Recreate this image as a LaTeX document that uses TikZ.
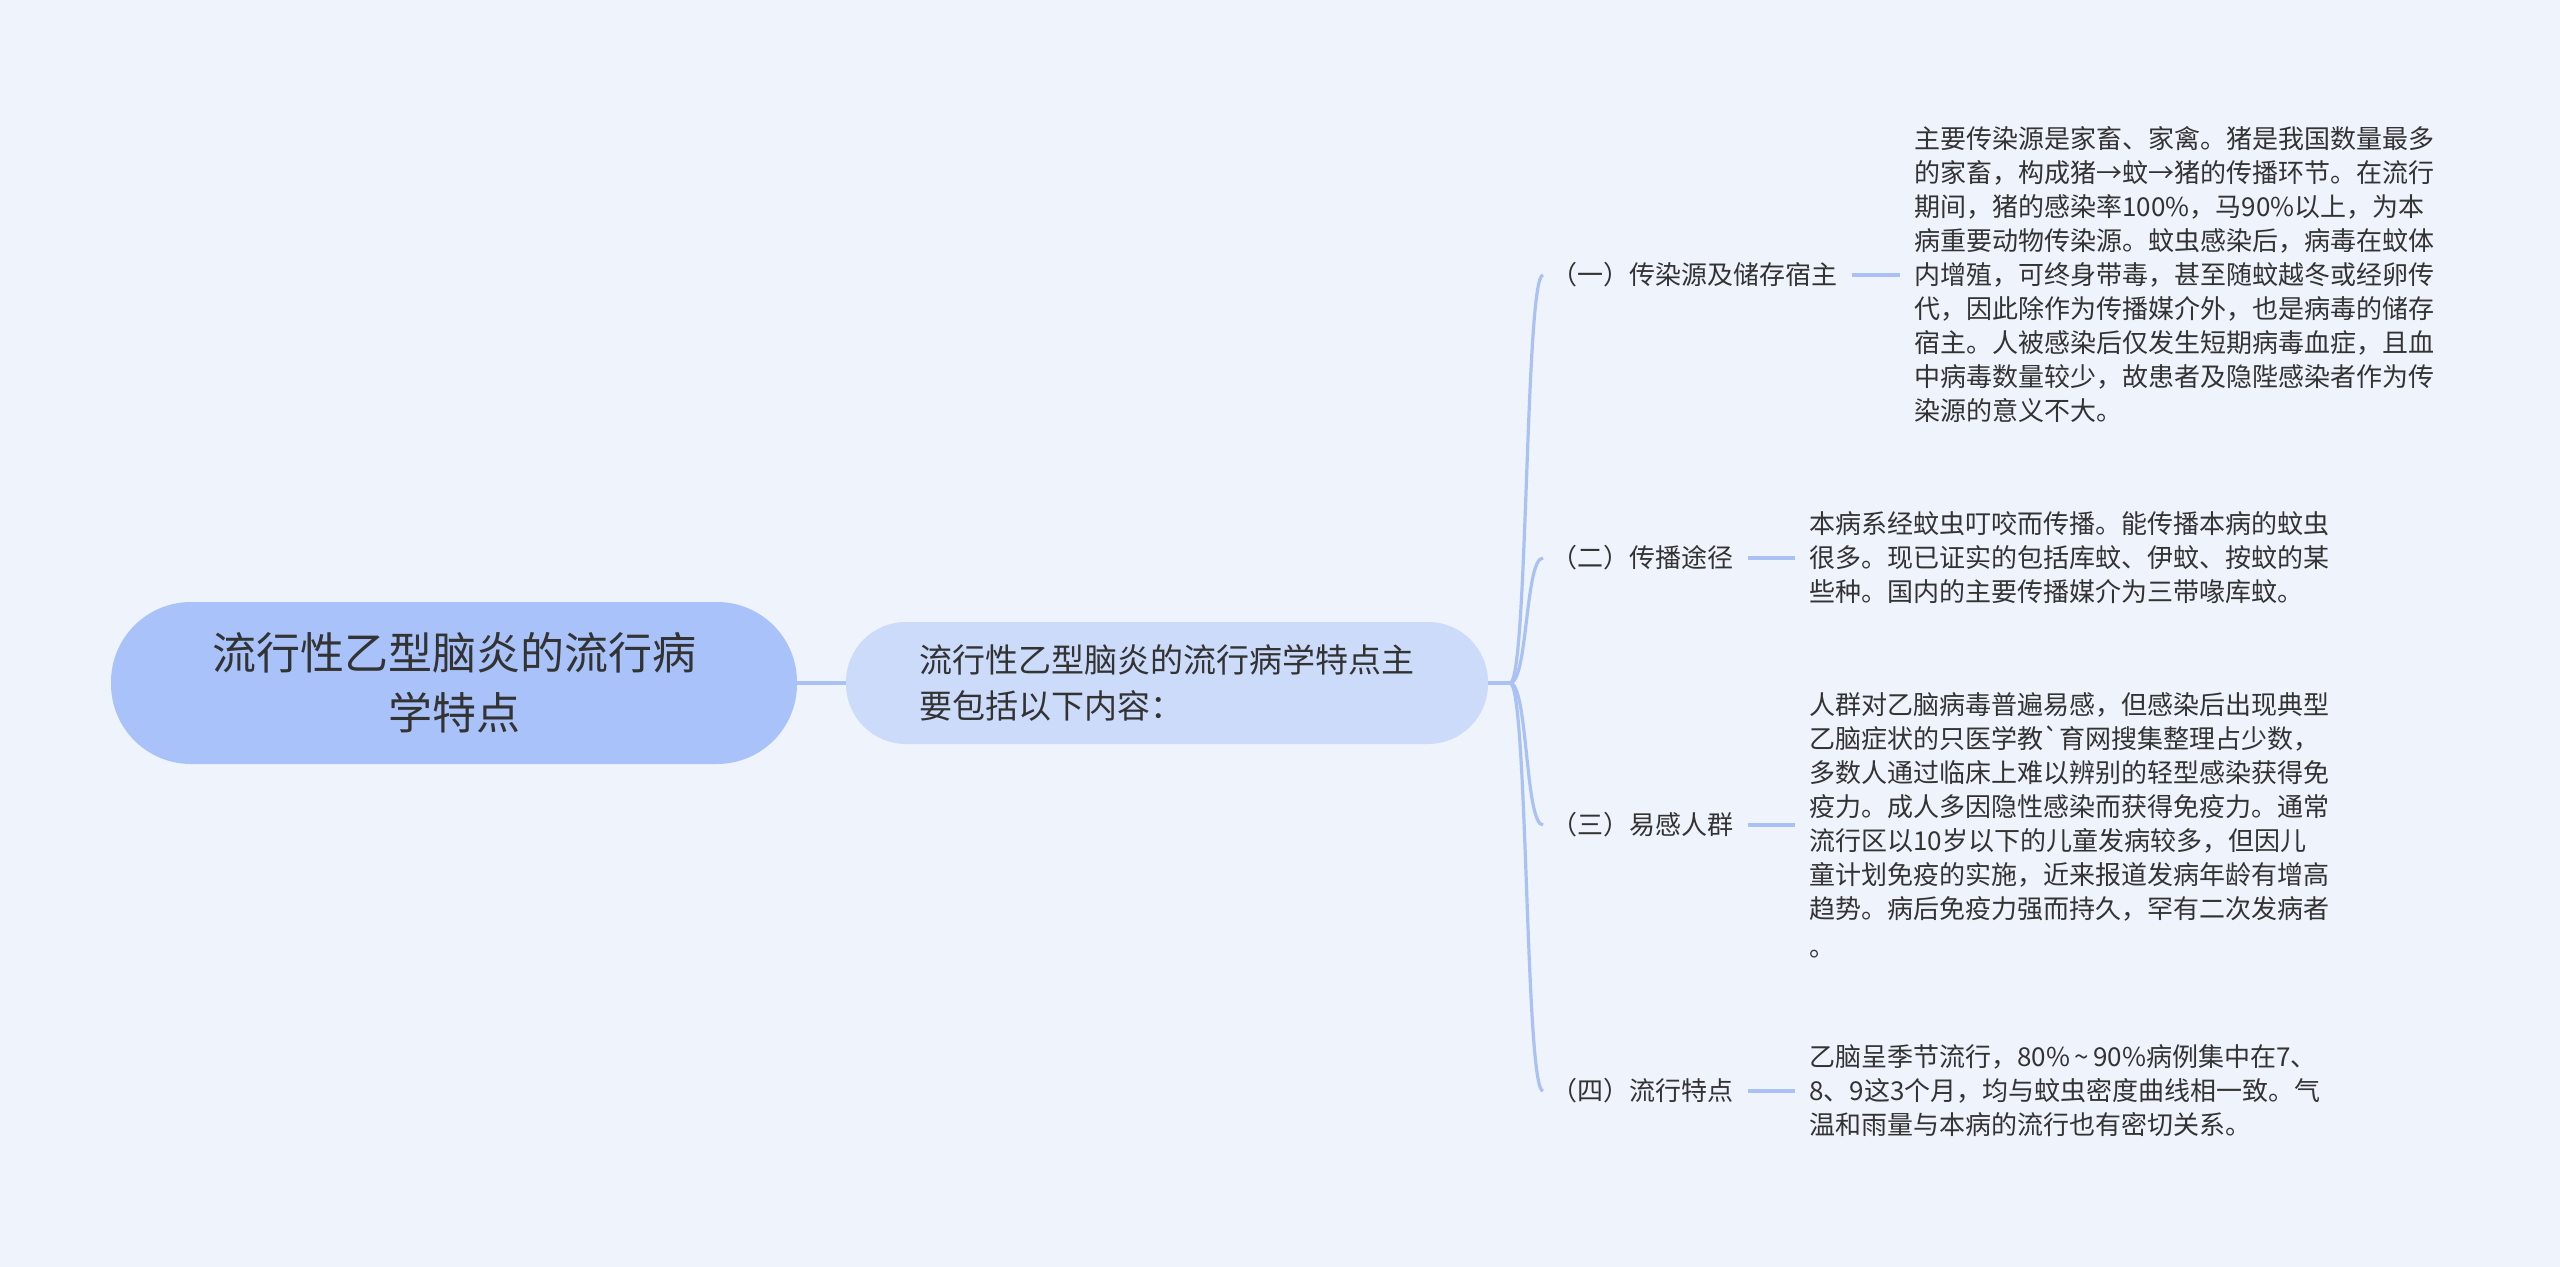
\documentclass[tikz,border=0pt]{standalone}
\usepackage{fontspec}
\newfontfamily\cjk{Noto Sans CJK SC}
\definecolor{bgblue}{HTML}{EEF3FC}
\definecolor{rootblue}{HTML}{A9C3FA}
\definecolor{mainblue}{HTML}{CCDBFA}
\definecolor{linkblue}{HTML}{A9C2F3}
\definecolor{inkgray}{HTML}{333333}
\begin{document}
\begin{tikzpicture}[x=0.5pt,y=-0.5pt,
    rootbox/.style={rectangle, rounded corners=40pt, fill=rootblue, minimum width=343pt, minimum height=81pt, align=center, text=inkgray, font=\cjk\fontsize{22}{30}\selectfont},
    mainbox/.style={rectangle, rounded corners=30pt, fill=mainblue, minimum width=321pt, minimum height=61pt, align=left, text=inkgray, font=\cjk\fontsize{16.5}{23}\selectfont},
    branch/.style={anchor=west, inner sep=0pt, text=inkgray, font=\cjk\fontsize{13}{16}\selectfont},
    leaf/.style={anchor=west, inner sep=0pt, align=left, text=inkgray, font=\cjk\fontsize{13}{17}\selectfont}]
      \fill[bgblue] (0,0) rectangle (2560,1267);
      \useasboundingbox (0,0) rectangle (2560,1267);

      \node [rootbox] (root) at (454,683) {流行性乙型脑炎的流行病\\学特点};
      \node [mainbox] (main) at (1167,683) {流行性乙型脑炎的流行病学特点主\\要包括以下内容：};
      \coordinate (J) at (1510,683);

      \node [branch] (b1) at (1551,275) {（一）传染源及储存宿主};
      \node [branch] (b2) at (1551,558) {（二）传播途径};
      \node [branch] (b3) at (1551,825) {（三）易感人群};
      \node [branch] (b4) at (1551,1091) {（四）流行特点};

      \node [leaf] (l1) at (1914,275) {主要传染源是家畜、家禽。猪是我国数量最多\\的家畜，构成猪→蚊→猪的传播环节。在流行\\期间，猪的感染率100\%，马90\%以上，为本\\病重要动物传染源。蚊虫感染后，病毒在蚊体\\内增殖，可终身带毒，甚至随蚊越冬或经卵传\\代，因此除作为传播媒介外，也是病毒的储存\\宿主。人被感染后仅发生短期病毒血症，且血\\中病毒数量较少，故患者及隐陛感染者作为传\\染源的意义不大。};
      \node [leaf] (l2) at (1809,558) {本病系经蚊虫叮咬而传播。能传播本病的蚊虫\\很多。现已证实的包括库蚊、伊蚊、按蚊的某\\些种。国内的主要传播媒介为三带喙库蚊。};
      \node [leaf] (l3) at (1809,825) {人群对乙脑病毒普遍易感，但感染后出现典型\\乙脑症状的只医学教\textasciigrave 育网搜集整理占少数，\\多数人通过临床上难以辨别的轻型感染获得免\\疫力。成人多因隐性感染而获得免疫力。通常\\流行区以10岁以下的儿童发病较多，但因儿\\童计划免疫的实施，近来报道发病年龄有增高\\趋势。病后免疫力强而持久，罕有二次发病者\\[2pt]。};
      \node [leaf] (l4) at (1809,1091) {乙脑呈季节流行，80\%\,\textasciitilde\,90\%病例集中在7、\\8、9这3个月，均与蚊虫密度曲线相一致。气\\温和雨量与本病的流行也有密切关系。};

      \begin{scope}[draw=linkblue, line width=1.6pt]
        \draw (root) to (main);
        \draw (main) to (J);
        % curved spine to the four branches
        \foreach \b in {b1,b2,b3,b4}
          \draw (J) .. controls +(18,0) and +(-18,0) .. ([xshift=-4pt]\b.west);
        \draw [shorten <=7pt, shorten >=7pt] (b1.east) to (l1.west);
        \draw [shorten <=7pt, shorten >=7pt] (b2.east) to (l2.west);
        \draw [shorten <=7pt, shorten >=7pt] (b3.east) to (l3.west);
        \draw [shorten <=7pt, shorten >=7pt] (b4.east) to (l4.west);
      \end{scope}
   \end{tikzpicture}
\end{document}
